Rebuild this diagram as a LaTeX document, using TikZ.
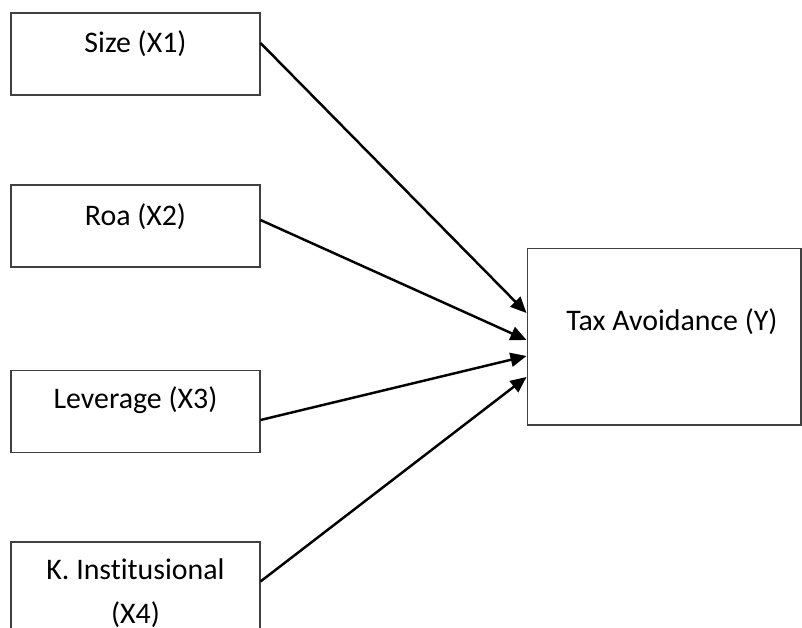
\documentclass[tikz,border=0pt]{standalone}
\usepackage{fontspec}
\setmainfont{Carlito}[Ligatures=NoCommon]
\usetikzlibrary{arrows.meta}

\begin{document}
\begin{tikzpicture}[x=0.02cm,y=-0.02cm,
  box/.style={draw=black!75,line width=0.6pt,minimum width=4.98cm,minimum height=1.64cm,inner sep=0pt},
  lbl/.style={font=\fontsize{17}{25}\selectfont,align=center,inner sep=0pt},
  >={Triangle[length=0.32cm,width=0.28cm]}]
\useasboundingbox (0,0) rectangle (802,627);
\clip (0,0) rectangle (802,627);
% independent variables
\node[box] (size) at (135.5,54) {};
\node[box] (roa) at (135.5,226) {};
\node[box] (lev) at (135.5,411.5) {};
\node[box,minimum height=2cm] (kins) at (135.5,592) {};
\node[lbl] (sizetxt) at ([yshift=-0.62cm]size.north) {Size (X1)};
\node[lbl] (roatxt) at ([yshift=-0.64cm]roa.north) {Roa (X2)};
\node[lbl] (levtxt) at ([yshift=-0.6cm]lev.north) {Leverage (X3)};
\node[lbl] (kinstxt) at ([yshift=-1.04cm]kins.north) {K. Institusional\\(X4)};
% dependent variable
\node[box,minimum width=5.48cm,minimum height=3.54cm] (tax) at (664,336.5) {};
\node[lbl] (taxtxt) at (672,322) {Tax Avoidance (Y)};
% paths
\draw[->,line width=1.4pt] ([yshift=0.22cm]size.east) -- ([yshift=0.47cm]tax.west);
\draw[->,line width=1.4pt] ([yshift=0.12cm]roa.east) -- ([yshift=-0.07cm]tax.west);
\draw[->,line width=1.4pt] ([yshift=-0.17cm]lev.east) -- ([yshift=-0.39cm]tax.west);
\draw[->,line width=1.4pt] ([yshift=-0.8cm]kins.north east) -- ([yshift=-0.81cm]tax.west);
\end{tikzpicture}
\end{document}
